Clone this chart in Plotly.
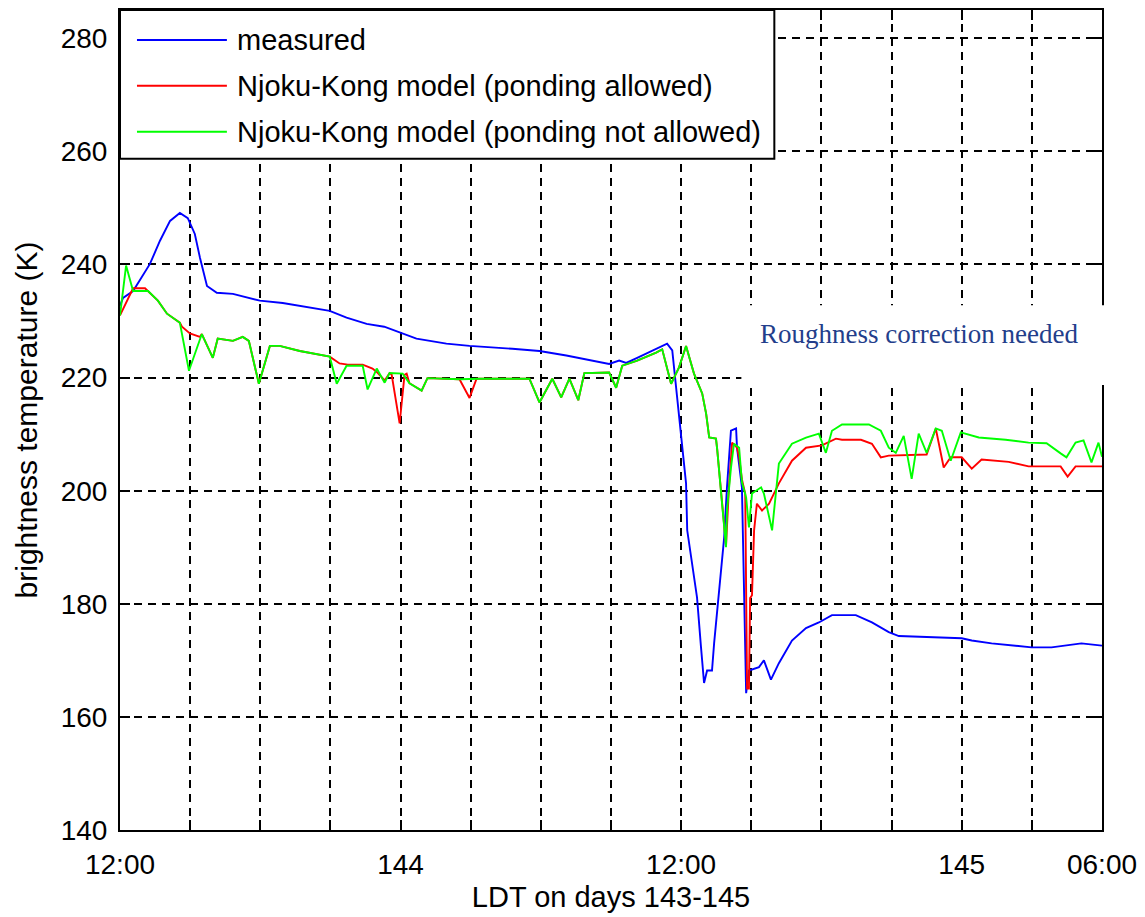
import plotly.graph_objects as go

# ---------------- data (hours after 12:00 LDT on day 143, brightness temperature in K)
measured_t = [0.00, 0.13, 0.56, 1.28, 1.71, 2.14, 2.56, 2.90, 3.20, 3.42, 3.72, 4.14, 4.83, 5.55,
              5.98, 6.96, 7.69, 8.97, 9.69, 10.55, 11.30, 11.96, 12.68, 13.96, 14.95, 16.78, 17.94,
              19.09, 20.20, 20.92, 21.35, 21.65, 22.12, 22.93, 23.40, 23.62, 23.79, 23.91, 24.04,
              24.21, 24.26, 24.47, 24.68, 24.85, 24.98, 25.11, 25.32, 25.41, 25.54, 25.71, 25.84,
              25.96, 26.13, 26.35, 26.39, 26.60, 26.65, 26.78, 26.90, 27.33, 27.54, 27.84, 28.18,
              28.74, 29.34, 29.89, 30.45, 31.47, 32.16, 32.88, 33.31, 35.02, 36.00, 36.43, 37.28,
              38.99, 39.84, 41.12, 42.00]
measured_tb = [232.7, 234.1, 235.3, 240.1, 244.2, 247.7, 249.1, 248.2, 245.4, 241.2, 236.2, 235.0,
               234.8, 234.1, 233.6, 233.2, 232.7, 231.8, 230.6, 229.5, 229.0, 228.0, 226.9, 226.0,
               225.6, 225.1, 224.7, 223.9, 223.0, 222.4, 223.0, 222.6, 223.5, 225.0, 226.0, 224.8,
               218.2, 213.0, 208.3, 201.3, 193.0, 187.1, 181.1, 172.3, 166.0, 168.2, 168.2, 173.0,
               178.3, 185.9, 191.7, 200.6, 210.6, 211.0, 207.6, 200.6, 188.9, 164.2, 168.2, 168.8,
               170.0, 166.6, 169.5, 173.5, 175.7, 176.7, 178.0, 178.0, 176.7, 175.0, 174.3, 174.1,
               173.9, 173.5, 173.0, 172.3, 172.3, 173.0, 172.6]

ponding_t = [0.00, 0.56, 1.07, 1.20, 1.62, 2.01, 2.56, 2.65, 2.99, 3.42, 3.50, 3.97, 4.18, 4.83,
             5.25, 5.51, 5.94, 6.41, 6.83, 7.69, 8.97, 9.39, 9.74, 10.38, 10.80, 10.98, 11.32,
             11.53, 11.62, 11.96, 12.17, 12.26, 12.38, 12.90, 13.15, 14.52, 14.95, 15.25, 15.37,
             17.51, 17.94, 18.49, 18.87, 19.22, 19.60, 19.86, 20.92, 21.22, 21.48, 22.12, 22.93,
             23.19, 23.57, 23.91, 24.21, 24.55, 24.90, 25.07, 25.20, 25.49, 25.54, 25.75, 25.92,
             26.05, 26.18, 26.39, 26.48, 26.60, 26.74, 26.82, 26.90, 26.95, 27.03, 27.12, 27.24,
             27.46, 27.76, 28.18, 28.74, 29.34, 30.02, 30.62, 30.88, 31.69, 32.16, 32.54, 32.88,
             34.50, 34.89, 35.23, 35.53, 36.00, 36.43, 36.85, 38.01, 38.86, 40.23, 40.53, 40.87,
             42.00]
ponding_tb = [231.0, 235.8, 235.8, 235.3, 233.6, 231.3, 229.7, 229.0, 227.8, 227.2, 227.7, 223.5,
              226.9, 226.5, 227.2, 226.5, 218.9, 225.6, 225.6, 224.7, 223.7, 222.5, 222.3, 222.3,
              221.6, 221.0, 219.5, 220.8, 220.5, 211.9, 220.5, 220.7, 219.0, 217.7, 219.9, 219.7,
              216.4, 219.8, 219.8, 219.8, 215.6, 219.8, 216.5, 219.8, 216.0, 220.8, 220.9, 218.2,
              222.1, 223.0, 224.4, 225.0, 218.9, 221.8, 225.6, 220.7, 217.2, 213.6, 209.4, 209.2,
              207.4, 198.5, 190.3, 201.0, 208.5, 207.6, 205.9, 202.0, 199.5, 165.0, 165.0, 181.0,
              181.5, 193.0, 197.7, 196.5, 197.7, 201.3, 205.3, 207.6, 208.0, 209.2, 209.0, 209.0,
              208.3, 205.9, 206.2, 206.4, 211.0, 204.1, 205.9, 205.9, 203.9, 205.5, 205.1, 204.3,
              204.3, 202.5, 204.3, 204.3]

noponding_t = [0.00, 0.26, 0.56, 1.20, 1.62, 2.01, 2.56, 2.95, 3.50, 3.97, 4.18, 4.83, 5.25, 5.51,
               5.94, 6.41, 6.83, 7.69, 8.97, 9.27, 9.69, 10.38, 10.59, 10.98, 11.32, 11.53, 12.09,
               12.38, 12.90, 13.15, 14.52, 15.37, 17.51, 17.94, 18.49, 18.87, 19.22, 19.60, 19.86,
               20.92, 21.22, 21.48, 22.12, 22.93, 23.19, 23.57, 23.91, 24.21, 24.55, 24.90, 25.07,
               25.20, 25.49, 25.54, 25.75, 25.92, 25.96, 26.13, 26.26, 26.48, 26.60, 26.78, 26.90,
               27.03, 27.42, 27.54, 27.89, 28.18, 28.74, 29.34, 29.89, 30.19, 30.45, 30.88, 32.03,
               32.54, 32.88, 33.18, 33.52, 33.86, 34.16, 34.50, 34.89, 35.15, 35.53, 35.96, 36.73,
               37.88, 38.86, 39.63, 40.23, 40.48, 40.87, 41.21, 41.55, 41.85, 42.00]
noponding_tb = [231.0, 239.8, 235.3, 235.3, 233.6, 231.3, 229.7, 221.2, 227.7, 223.5, 226.9, 226.5,
                227.2, 226.5, 218.9, 225.6, 225.6, 224.7, 223.7, 218.9, 222.1, 222.1, 217.9, 221.6,
                219.1, 220.8, 220.7, 219.0, 217.7, 219.9, 219.7, 219.8, 219.8, 215.6, 219.8, 216.5,
                219.8, 216.0, 220.8, 220.9, 218.2, 222.1, 223.0, 224.4, 225.0, 218.9, 221.8, 225.6,
                220.7, 217.2, 213.6, 209.4, 209.2, 207.4, 197.7, 190.0, 196.5, 204.0, 208.3, 207.6,
                201.5, 198.8, 193.5, 199.5, 200.6, 199.5, 193.0, 204.8, 208.3, 209.4, 210.1, 206.7,
                210.6, 211.7, 211.7, 210.6, 207.6, 206.7, 209.7, 202.1, 210.1, 206.7, 211.0, 210.6,
                205.3, 210.3, 209.4, 209.0, 208.5, 208.4, 206.6, 205.9, 208.5, 208.9, 205.0, 208.5,
                206.0]

series_names = ["measured", "Njoku-Kong model (ponding allowed)",
                "Njoku-Kong model (ponding not allowed)"]
series_colors = ["#0000FF", "#FF0000", "#00FF00"]

x_tickvals = [0, 3, 6, 9, 12, 15, 18, 21, 24, 27, 30, 33, 36, 39, 42]
x_ticktext = ["12:00", "", "", "", "144", "", "", "", "12:00", "", "", "", "145", "", "06:00"]
y_tickvals = [140, 160, 180, 200, 220, 240, 260, 280]

x_title = "LDT on days 143-145"
y_title = "brightness temperature (K)"
note_text = "Roughness correction needed"

SANS = "Liberation Sans, Arial, sans-serif"

fig = go.Figure()
for t, tb, name, color in [(measured_t, measured_tb, series_names[0], series_colors[0]),
                           (ponding_t, ponding_tb, series_names[1], series_colors[1]),
                           (noponding_t, noponding_tb, series_names[2], series_colors[2])]:
    fig.add_trace(go.Scatter(x=t, y=tb, mode="lines", name=name,
                             line=dict(color=color, width=1.9), showlegend=False))

axis_common = dict(
    showline=True, linecolor="black", linewidth=2, mirror="ticks",
    ticks="inside", ticklen=10, tickwidth=1.5, tickcolor="black",
    showgrid=True, gridcolor="black", gridwidth=1.5, griddash="8px,6px",
    zeroline=False, ticklabeloverflow="allow",
    tickfont=dict(family=SANS, size=28, color="black"),
)

fig.update_xaxes(range=[0, 42], tickvals=x_tickvals, ticktext=x_ticktext,
                 title=dict(text=x_title, font=dict(family=SANS, size=29, color="black"),
                            standoff=8),
                 ticklabelstandoff=8, **axis_common)
fig.update_yaxes(range=[140, 285], tickvals=y_tickvals,
                 title=dict(text=y_title, font=dict(family=SANS, size=30, color="black"),
                            standoff=14),
                 ticklabelstandoff=5, **axis_common)

W, H = 1145, 917
L, R, T, B = 120, 42, 8, 87
pw, ph = W - L - R, H - T - B


def px(x):
    return (x - L) / pw


def py(y):
    return (H - B - y) / ph


shapes = []
annotations = []
# legend box
shapes.append(dict(type="rect", xref="paper", yref="paper", x0=px(120), x1=px(775),
                   y0=py(157), y1=py(8), line=dict(color="black", width=2),
                   fillcolor="white", layer="above"))
row_y = [38, 84, 130]
for name, color, yy in zip(series_names, series_colors, row_y):
    shapes.append(dict(type="line", xref="paper", yref="paper", x0=px(137), x1=px(227),
                       y0=py(yy), y1=py(yy), line=dict(color=color, width=1.9), layer="above"))
    annotations.append(dict(xref="paper", yref="paper", x=px(235), y=py(yy), text=name,
                            showarrow=False, xanchor="left", yanchor="middle",
                            font=dict(family=SANS, size=29, color="black")))
# note box
shapes.append(dict(type="rect", xref="paper", yref="paper", x0=px(742), x1=px(1145),
                   y0=py(384), y1=py(304), line=dict(width=0), fillcolor="white", layer="above"))
annotations.append(dict(xref="paper", yref="paper", x=px(920), y=py(333), text=note_text,
                        showarrow=False, xanchor="center", yanchor="middle",
                        font=dict(family="Liberation Serif, Times New Roman, serif", size=27,
                                  color="#233E8B")))

fig.update_layout(width=W, height=H, margin=dict(l=L, r=R, t=T, b=B),
                  paper_bgcolor="white", plot_bgcolor="white",
                  shapes=shapes, annotations=annotations, showlegend=False)

fig.write_html("out.html")
